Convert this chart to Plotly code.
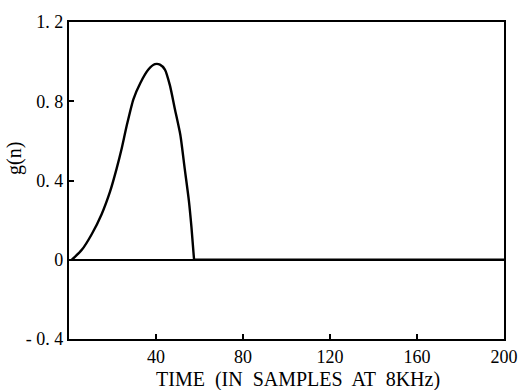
import plotly.graph_objects as go

# samples n and pulse values g(n)
n_vals = [1.3, 5.9, 10.5, 15.0, 18.9, 21.9, 24.2, 26.6, 29.6, 32.7, 36.5, 39.5,
          41.8, 44.1, 46.4, 48.7, 51.2, 53.2, 55.1, 56.3, 57.5]
g_vals = [0, 0.05, 0.13, 0.23, 0.345, 0.46, 0.56, 0.68, 0.81, 0.89, 0.96, 0.987,
          0.985, 0.96, 0.88, 0.76, 0.63, 0.46, 0.30, 0.165, 0]
# after the pulse the signal stays at zero up to n = 200
tail_n = [57.5, 200]
tail_g = [0, 0]

x_ticks = [40, 80, 120, 160, 200]
x_tick_text = ["40", "80", "120", "160", "200"]
y_ticks = [-0.4, 0, 0.4, 0.8, 1.2]
y_tick_text = ["-\u00a00.\u00a04", "0", "0.\u00a04", "0.\u00a08", "1.\u00a02"]

FONT = "Liberation Serif"

fig = go.Figure()
fig.add_trace(go.Scatter(x=n_vals, y=g_vals, mode="lines",
                         line=dict(color="black", width=2.4, shape="spline", smoothing=0.6),
                         hoverinfo="skip"))
fig.add_trace(go.Scatter(x=tail_n, y=tail_g, mode="lines",
                         line=dict(color="black", width=2.4),
                         hoverinfo="skip"))

fig.update_layout(
    width=530, height=390,
    margin=dict(l=69, r=24, t=14, b=51),
    paper_bgcolor="white", plot_bgcolor="white",
    showlegend=False,
    font=dict(family=FONT, color="black", size=18),
)
fig.update_xaxes(range=[0, 200], tickvals=x_ticks, ticktext=x_tick_text,
                 ticks="inside", ticklen=5, tickwidth=2, tickcolor="black",
                 showline=True, linecolor="black", linewidth=2.2, mirror=True,
                 showgrid=False, zeroline=False,
                 tickfont=dict(family=FONT, size=18))
fig.update_yaxes(range=[-0.4, 1.2], tickvals=y_ticks, ticktext=y_tick_text,
                 ticks="inside", ticklen=5, tickwidth=2, tickcolor="black",
                 showline=True, linecolor="black", linewidth=2.2, mirror=True,
                 showgrid=False, zeroline=True, zerolinecolor="black", zerolinewidth=2.4,
                 tickfont=dict(family=FONT, size=18))

fig.add_annotation(text="TIME  (IN  SAMPLES  AT  8KHz)", xref="paper", yref="paper",
                   x=0.526, y=-0.128, xanchor="center", yanchor="middle", showarrow=False,
                   font=dict(family=FONT, size=20))
fig.add_annotation(text="g(n)", xref="paper", yref="paper", x=-0.125, y=0.57,
                   xanchor="center", yanchor="middle", textangle=-90, showarrow=False,
                   font=dict(family=FONT, size=20))

fig.write_html("out.html")
